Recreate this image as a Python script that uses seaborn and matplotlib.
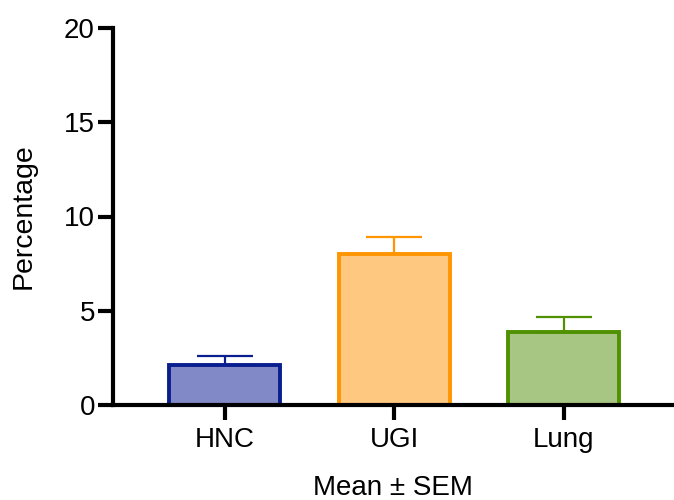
import matplotlib
matplotlib.use("Agg")
import matplotlib.pyplot as plt
import seaborn as sns
import pandas as pd

categories = ["HNC", "UGI", "Lung"]
means = [2.1, 8.0, 3.85]
sems = [0.5, 0.9, 0.8]
y_ticks = [0, 5, 10, 15, 20]

edge_colors = ["#0A1F8F", "#FF9500", "#4F9100"]
fill_colors = ["#8189C6", "#FFC880", "#A7C583"]

sns.set_style("ticks")
plt.rcParams["font.family"] = ["Liberation Sans", "DejaVu Sans"]
plt.rcParams["text.color"] = "black"
plt.rcParams["axes.labelcolor"] = "black"
plt.rcParams["xtick.color"] = "black"
plt.rcParams["ytick.color"] = "black"

df = pd.DataFrame({"group": categories, "value": means})

fig = plt.figure(figsize=(6.74, 5.0), dpi=100)
ax = fig.add_axes([0.1677, 0.19, 0.8293, 0.754])

sns.barplot(data=df, x="group", y="value", hue="group", palette=fill_colors,
            width=0.655, errorbar=None, legend=False, ax=ax, saturation=1)

for patch, ec in zip(ax.patches, edge_colors):
    patch.set_edgecolor(ec)
    patch.set_linewidth(2.8)

for i, (m, s, ec) in enumerate(zip(means, sems, edge_colors)):
    ax.errorbar(i, m, yerr=[[0], [s]], fmt="none", ecolor=ec, elinewidth=1.6,
                capsize=20.5, capthick=1.6, zorder=1)

ax.set_ylim(0, 20)
ax.set_xlim(-0.66, 2.64)
ax.set_yticks(y_ticks)
ax.set_yticklabels([str(t) for t in y_ticks])
ax.set_ylabel("Percentage", fontsize=20.5, labelpad=20, color="black")
ax.set_xlabel("Mean ± SEM", fontsize=20, labelpad=16, color="black")
ax.tick_params(axis="both", labelsize=20, width=3, length=11, color="black",
               labelcolor="black")
ax.tick_params(axis="y", pad=2)
ax.tick_params(axis="x", pad=5)
for side in ["left", "bottom"]:
    ax.spines[side].set_linewidth(3)
    ax.spines[side].set_color("black")
ax.spines["top"].set_visible(False)
ax.spines["right"].set_visible(False)

fig.savefig("out.png", dpi=100)
